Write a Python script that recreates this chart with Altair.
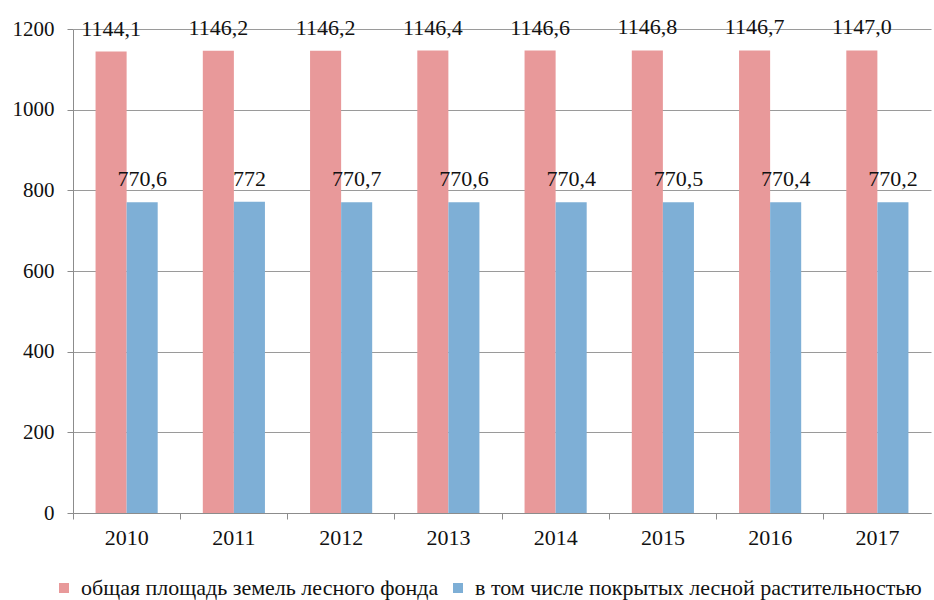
import altair as alt
import pandas as pd

# Forest fund area by year, million hectares (values written with decimal commas)
years = ["2010", "2011", "2012", "2013", "2014", "2015", "2016", "2017"]
total_area = ["1144,1", "1146,2", "1146,2", "1146,4", "1146,6", "1146,8", "1146,7", "1147,0"]
covered_area = ["770,6", "772", "770,7", "770,6", "770,4", "770,5", "770,4", "770,2"]

series = [
    "общая площадь земель лесного фонда",
    "в том числе покрытых лесной растительностью",
]
colors = ["#E8999A", "#7EAFD6"]

rows = []
for i, y in enumerate(years):
    for name, vals in zip(series, [total_area, covered_area]):
        rows.append({
            "year": y,
            "series": name,
            "label": vals[i],
            "value": float(vals[i].replace(",", ".")),
        })
df = pd.DataFrame(rows)

FONT = "Liberation Serif"
INK = "#111111"

x_enc = alt.X(
    "year:N",
    title=None,
    sort=years,
    scale=alt.Scale(paddingInner=0, paddingOuter=0),
    axis=alt.Axis(
        labelAngle=0,
        bandPosition=0,
        ticks=True,
        tickSize=6,
        labelPadding=8,
        labelFont=FONT,
        labelFontSize=22,
        labelColor=INK,
        domainColor="#8c8c8c",
        tickColor="#8c8c8c",
        grid=False,
    ),
)
x_off = alt.XOffset(
    "series:N",
    sort=series,
    scale=alt.Scale(paddingInner=0, paddingOuter=0.726),
)

bars = alt.Chart(df).mark_bar().encode(
    x=x_enc,
    xOffset=x_off,
    y=alt.Y(
        "value:Q",
        title=None,
        scale=alt.Scale(domain=[0, 1200], nice=False),
        axis=alt.Axis(
            values=[0, 200, 400, 600, 800, 1000, 1200],
            format="d",
            tickSize=6,
            labelPadding=13,
            labelFont=FONT,
            labelFontSize=21,
            labelColor=INK,
            domainColor="#8c8c8c",
            tickColor="#8c8c8c",
            gridColor="#9a9a9a",
            gridWidth=1,
        ),
    ),
    color=alt.Color(
        "series:N",
        sort=series,
        scale=alt.Scale(domain=series, range=colors),
        legend=alt.Legend(
            title=None,
            orient="none",
            direction="horizontal",
            legendX=-20,
            legendY=548,
            symbolType="square",
            symbolSize=100,
            symbolStrokeWidth=0,
            labelFontSize=22,
            labelFont=FONT,
            labelColor=INK,
            labelLimit=700,
            labelOffset=6,
            columnPadding=8,
        ),
    ),
)

labels = alt.Chart(df).mark_text(
    baseline="alphabetic", dy=-16, fontSize=22, font=FONT, color=INK
).encode(
    x=alt.X("year:N", sort=years),
    xOffset=x_off,
    y="value:Q",
    text="label:N",
)

chart = (
    alt.layer(bars, labels)
    .properties(
        width=858,
        height=484,
        autosize=alt.AutoSizeParams(type="none"),
        padding={"left": 73, "top": 29, "right": 3, "bottom": 87},
    )
    .configure(font=FONT)
    .configure_view(stroke=None)
)

chart.save("out.html", embed_options={"renderer": "svg", "actions": False})
